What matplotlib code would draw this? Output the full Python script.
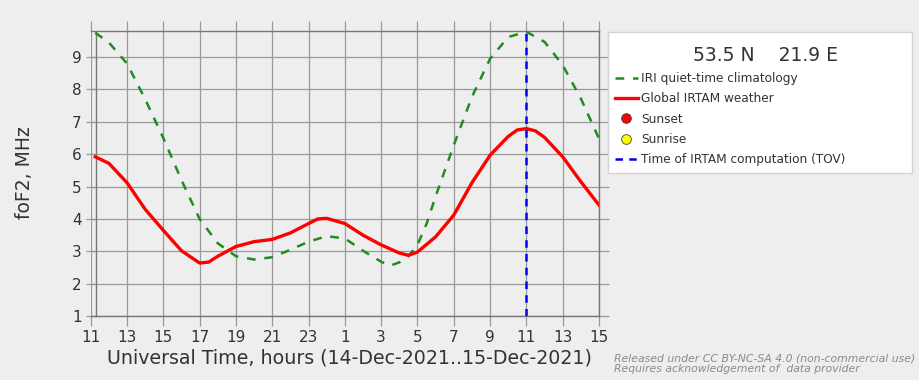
import matplotlib
matplotlib.use("Agg")
import matplotlib.pyplot as plt
from matplotlib.lines import Line2D
from matplotlib.offsetbox import DrawingArea

# ---- data (hours since 00 UT 14-Dec-2021) ----
iri_hours = [11.25, 12, 13, 14, 15, 16, 17, 18, 19, 20, 21, 22, 23, 24, 25, 26, 27, 27.5,
             28, 28.5, 29, 29.5, 30, 31, 32, 33, 34, 35, 36, 37, 38, 39]
iri_fof2 = [9.75, 9.45, 8.8, 7.7, 6.5, 5.2, 4.0, 3.25, 2.85, 2.75, 2.82, 3.05, 3.3, 3.47,
            3.4, 3.02, 2.68, 2.56, 2.66, 2.85, 3.2, 3.85, 4.7, 6.28, 7.77, 8.95, 9.62,
            9.78, 9.47, 8.75, 7.72, 6.48]

irtam_hours = [11.25, 12, 13, 14, 15, 16, 17, 17.5, 18, 19, 20, 21, 22, 23, 23.5, 24, 25,
               26, 27, 28, 28.5, 29, 30, 31, 32, 33, 34, 34.5, 35, 35.5, 36, 37, 38, 39]
irtam_fof2 = [5.92, 5.72, 5.12, 4.3, 3.65, 3.02, 2.64, 2.67, 2.85, 3.15, 3.3, 3.37, 3.57,
              3.86, 4.0, 4.02, 3.86, 3.5, 3.2, 2.95, 2.88, 2.98, 3.45, 4.12, 5.12, 5.97,
              6.55, 6.75, 6.79, 6.72, 6.52, 5.92, 5.15, 4.43]

tov_hour = 35
xticks = list(range(11, 40, 2))
xtick_labels = [str(h % 24) for h in xticks]
yticks = [1, 2, 3, 4, 5, 6, 7, 8, 9]
location_title = "53.5 N    21.9 E"

BG = "#eeeeee"
GRID = "#9a9a9a"
TXT = "#333333"

fig = plt.figure(figsize=(9.2, 3.8), dpi=100, facecolor=BG)
ax = fig.add_axes([0.0986, 0.168, 0.5525, 0.750], facecolor=BG)

ax.plot(iri_hours, iri_fof2, color="#228b22", lw=1.8, ls=(0, (3.5, 3.5)), zorder=3)
ax.plot(irtam_hours, irtam_fof2, color="red", lw=2.4, zorder=4)
ax.axvline(tov_hour, color="blue", lw=1.8, ls=(0, (3, 2.5)), zorder=5)

ax.set_xlim(11, 39)
ax.set_ylim(1, 9.8)
ax.set_xticks(xticks)
ax.set_xticklabels(xtick_labels)
ax.set_yticks(yticks)
ax.grid(True, color=GRID, lw=0.9)
ax.tick_params(axis="both", which="both", direction="out", length=7, width=0.9,
               color=GRID, labelsize=11, labelcolor=TXT,
               top=True, right=True, labeltop=False, labelright=False, pad=3)
for s in ax.spines.values():
    s.set_color("#777777")
    s.set_linewidth(1.0)
ax.spines["left"].set_position(("data", 11.27))

ax.set_xlabel("Universal Time, hours (14-Dec-2021..15-Dec-2021)", fontsize=13.7,
              color=TXT)
ax.xaxis.set_label_coords(0.509, -0.112)
fig.text(0.027, 0.545, "foF2, MHz", rotation=90, fontsize=13.5, color=TXT,
         ha="center", va="center")

handles = [
    Line2D([], [], color="#228b22", lw=1.8, ls=(0, (3.5, 3.5))),
    Line2D([], [], color="red", lw=2.4),
    Line2D([], [], color="none", marker="o", markerfacecolor="red",
           markeredgecolor="#444444", markersize=7, markeredgewidth=0.6),
    Line2D([], [], color="none", marker="o", markerfacecolor="yellow",
           markeredgecolor="#444444", markersize=7, markeredgewidth=0.6),
    Line2D([], [], color="blue", lw=1.8, ls=(0, (3, 2.5))),
]
labels = ["IRI quiet-time climatology", "Global IRTAM weather", "Sunset", "Sunrise",
          "Time of IRTAM computation (TOV)"]
leg = fig.legend(handles, labels, loc="upper left",
                 bbox_to_anchor=(0.661, 0.55, 0.330, 0.366), mode="expand",
                 title="  " + location_title, title_fontsize=13.5, fontsize=8.7,
                 frameon=True, fancybox=False, framealpha=1.0, borderpad=0.55,
                 labelspacing=0.6, handlelength=1.9, handletextpad=0.3,
                 borderaxespad=0)
# small spacer above the title so it sits lower in the box, like the reference
try:
    leg._legend_box._children.insert(0, DrawingArea(0, 0))
except Exception:
    pass
leg.get_frame().set_facecolor("white")
leg.get_frame().set_edgecolor("#d4d4d4")
leg.get_frame().set_linewidth(1.0)
leg.get_title().set_color(TXT)
for t in leg.get_texts():
    t.set_color(TXT)

fig.text(0.667, 0.042,
         "Released under CC BY-NC-SA 4.0 (non-commercial use)\n"
         "Requires acknowledgement of  data provider",
         fontsize=7.8, style="italic", color="#8a8a8a", ha="left", va="center",
         linespacing=1.05)

fig.savefig("out.png", dpi=100, facecolor=BG)
